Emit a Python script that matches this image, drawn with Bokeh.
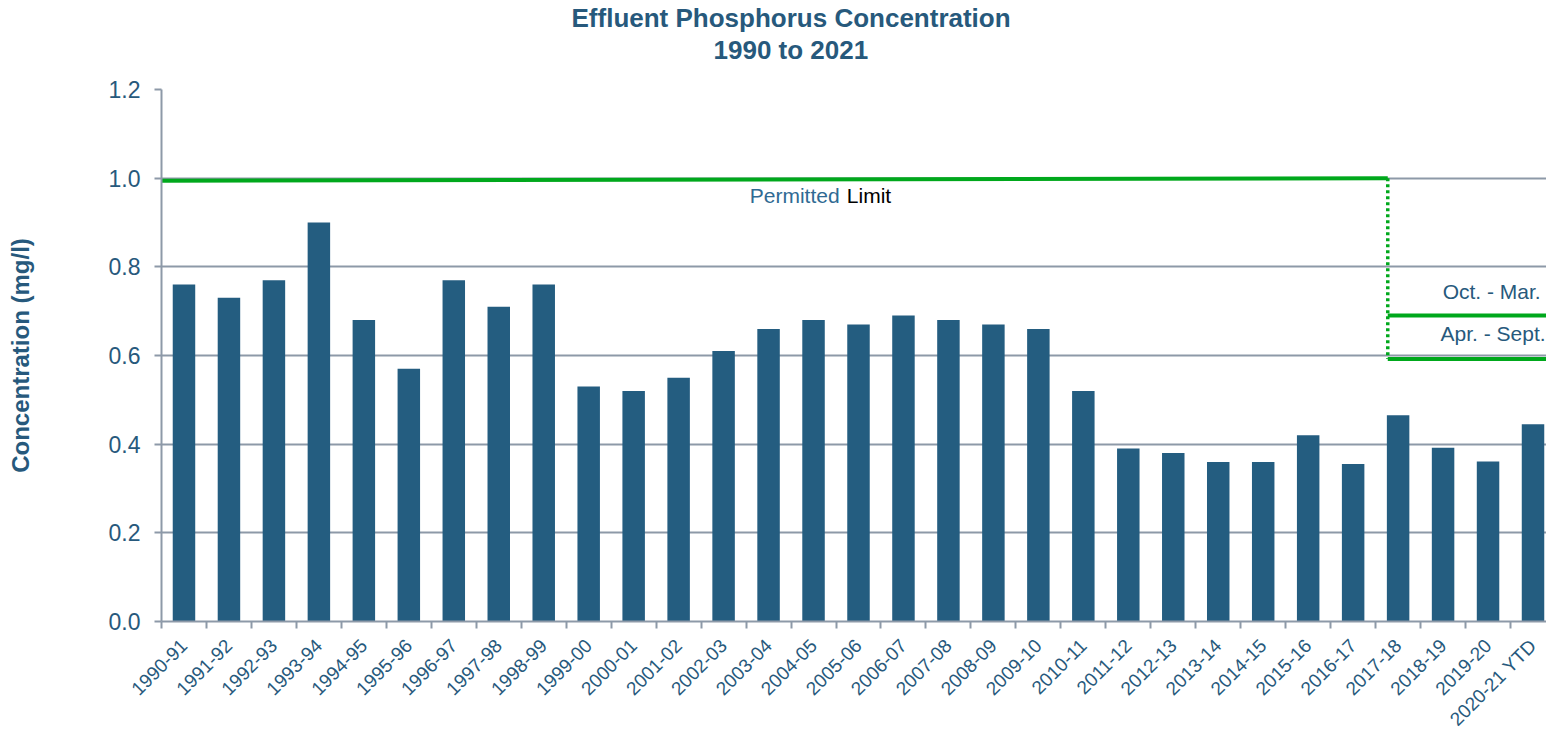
import math
from bokeh.plotting import figure
from bokeh.models import Range1d, FixedTicker, NumeralTickFormatter, Label, Title
from bokeh.embed import file_html
from bokeh.resources import INLINE

# ---------------- data ----------------
categories = ["1990-91", "1991-92", "1992-93", "1993-94", "1994-95", "1995-96",
              "1996-97", "1997-98", "1998-99", "1999-00", "2000-01", "2001-02",
              "2002-03", "2003-04", "2004-05", "2005-06", "2006-07", "2007-08",
              "2008-09", "2009-10", "2010-11", "2011-12", "2012-13", "2013-14",
              "2014-15", "2015-16", "2016-17", "2017-18", "2018-19", "2019-20",
              "2020-21 YTD"]
concentration = [0.76, 0.73, 0.77, 0.90, 0.68, 0.57, 0.77, 0.71, 0.76, 0.53,
                 0.52, 0.55, 0.61, 0.66, 0.68, 0.67, 0.69, 0.68, 0.67, 0.66,
                 0.52, 0.39, 0.38, 0.36, 0.36, 0.42, 0.355, 0.465, 0.392, 0.361,
                 0.445]
permitted_limit = [0.994, 1.0]      # old single limit (start, end)
limit_change_at = "2017-18"         # limit changes during this year
oct_mar_limit = 0.69
apr_sept_limit = 0.592
y_ticks = [0.0, 0.2, 0.4, 0.6, 0.8, 1.0, 1.2]
title_lines = ["Effluent Phosphorus Concentration", "1990 to 2021"]

# ---------------- styles ----------------
BAR = "#245d80"
TXT = "#27597c"
GRID = "#8d99a8"
GREEN = "#00a81c"
FONT = "Liberation Sans"

n = len(categories)
x_end = 30.8
xs = [i + 0.5 for i in range(n)]
x_change = categories.index(limit_change_at) + 0.27

p = figure(width=1546, height=740, output_backend="svg", toolbar_location=None,
           x_range=Range1d(0, x_end), y_range=Range1d(0, 1.2),
           min_border_left=161, min_border_right=0, min_border_top=89,
           min_border_bottom=100)
p.outline_line_color = None
p.background_fill_color = "white"

# two-line title (spacer first, so the lines sit higher above the plot area)
p.add_layout(Title(text=" ", text_font_size="12px", standoff=9), "above")
for txt, off in [(title_lines[1], 552), (title_lines[0], 410)]:
    p.add_layout(Title(text=txt, align="left", offset=off, text_font=FONT,
                       text_font_size="26px", text_font_style="bold",
                       text_color=TXT, standoff=0), "above")

p.vbar(x=xs, top=concentration, width=0.5, fill_color=BAR, line_color=None)

# limit lines
p.line(x=[-0.1, x_change], y=permitted_limit, line_color=GREEN, line_width=4)
p.line(x=[x_change, x_change], y=[permitted_limit[1], apr_sept_limit],
       line_color=GREEN, line_width=3.5, line_dash="3 3")
p.line(x=[x_change, x_end], y=[oct_mar_limit, oct_mar_limit], line_color=GREEN, line_width=4)
p.line(x=[x_change, x_end], y=[apr_sept_limit, apr_sept_limit], line_color=GREEN, line_width=4)

p.add_layout(Label(x=15.08, y=0.962, text="Permitted", text_align="right",
                   text_baseline="middle", text_font=FONT, text_font_size="21px",
                   text_color="#2f6a93"))
p.add_layout(Label(x=15.24, y=0.962, text="Limit", text_align="left",
                   text_baseline="middle", text_font=FONT, text_font_size="21px",
                   text_color="black"))
p.add_layout(Label(x=30.67, y=0.744, text="Oct. - Mar.", text_align="right",
                   text_baseline="middle", text_font=FONT, text_font_size="21px",
                   text_color=TXT))
p.add_layout(Label(x=30.78, y=0.649, text="Apr. - Sept.", text_align="right",
                   text_baseline="middle", text_font=FONT, text_font_size="21px",
                   text_color=TXT))

# axes
p.xgrid.grid_line_color = None
p.ygrid.grid_line_color = GRID
p.ygrid.grid_line_width = 2
p.ygrid.ticker = FixedTicker(ticks=y_ticks)

ya = p.yaxis[0]
ya.ticker = FixedTicker(ticks=y_ticks)
ya.formatter = NumeralTickFormatter(format="0.0")
ya.axis_line_color = GRID
ya.axis_line_width = 2
ya.major_tick_line_color = GRID
ya.major_tick_line_width = 2
ya.major_tick_in = 0
ya.major_tick_out = 7
ya.minor_tick_line_color = None
ya.major_label_text_font = FONT
ya.major_label_text_font_size = "23px"
ya.major_label_text_color = TXT
ya.major_label_standoff = 14
ya.axis_label = "Concentration (mg/l)"
ya.axis_label_text_font = FONT
ya.axis_label_text_font_size = "24px"
ya.axis_label_text_font_style = "bold"
ya.axis_label_text_color = TXT
ya.axis_label_standoff = 72

xa = p.xaxis[0]
xa.ticker = FixedTicker(ticks=xs, minor_ticks=list(range(n)))
xa.major_label_overrides = {x: c for x, c in zip(xs, categories)}
xa.major_label_orientation = math.pi / 4
xa.major_label_text_font = FONT
xa.major_label_text_font_size = "19px"
xa.major_label_text_color = TXT
xa.major_label_standoff = 14
xa.major_tick_line_color = None
xa.major_tick_in = 0
xa.major_tick_out = 0
xa.minor_tick_line_color = GRID
xa.minor_tick_line_width = 2
xa.minor_tick_in = 0
xa.minor_tick_out = 7
xa.axis_line_color = GRID
xa.axis_line_width = 2

open("out.html", "w").write(file_html(p, INLINE))
